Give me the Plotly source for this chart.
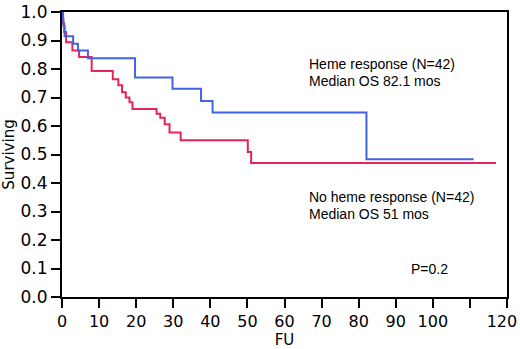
import plotly.graph_objects as go

# Heme response group (Kaplan-Meier steps)
heme_time = [0, 0.2, 0.4, 0.7, 3.0, 4.3, 7.0, 19.7, 29.8, 37.5, 40.6, 82.1, 111]
heme_surv = [1.0, 0.975, 0.95, 0.915, 0.889, 0.865, 0.838, 0.770, 0.731, 0.688, 0.647, 0.483, 0.483]

# No heme response group
noheme_time = [0, 0.3, 0.6, 1.1, 2.8, 4.6, 8.0, 13.7, 15.2, 16.2, 17.2, 18.2, 19.0,
               25.5, 26.5, 27.7, 29.0, 32.0, 50.1, 51.0, 117]
noheme_surv = [1.0, 0.96, 0.93, 0.894, 0.865, 0.842, 0.793, 0.764, 0.743, 0.718, 0.700, 0.683,
               0.660, 0.643, 0.629, 0.606, 0.577, 0.550, 0.509, 0.470, 0.470]

x_ticks = [0, 10, 20, 30, 40, 50, 60, 70, 80, 90, 100, 110, 120]
x_ticktext = ["0", "10", "20", "30", "40", "50", "60", "70", "80", "90", "100", "",
              "120\u00a0\u00a0"]
y_ticks = [0.0, 0.1, 0.2, 0.3, 0.4, 0.5, 0.6, 0.7, 0.8, 0.9, 1.0]

fig = go.Figure()
fig.add_trace(go.Scatter(x=noheme_time, y=noheme_surv, mode="lines", line_shape="hv",
                         line=dict(color="#E6245A", width=2), showlegend=False))
fig.add_trace(go.Scatter(x=heme_time, y=heme_surv, mode="lines", line_shape="hv",
                         line=dict(color="#4163E6", width=2), showlegend=False))

ann_font = dict(family="Liberation Sans, Arial, sans-serif", size=14, color="black")
labels = [
    ("Heme response (N=42)", 66.2, 0.816),
    ("Median OS 82.1 mos", 66.2, 0.758),
    ("No heme response (N=42)", 66.2, 0.350),
    ("Median OS 51 mos", 66.2, 0.291),
    ("P=0.2", 93.5, 0.098),
]
for txt, xx, yy in labels:
    fig.add_annotation(x=xx, y=yy, xref="x", yref="y", xanchor="left", yanchor="middle",
                       text=txt, showarrow=False, font=ann_font)

axis_font = dict(family="DejaVu Sans, sans-serif", size=16, color="black")
title_font = dict(family="DejaVu Sans, sans-serif", size=15, color="black")
fig.update_xaxes(range=[0, 120], tickvals=x_ticks, ticktext=x_ticktext, ticks="outside",
                 ticklen=9, tickwidth=2, tickcolor="black", showline=True, linecolor="black",
                 linewidth=2, mirror=True, showgrid=False, zeroline=False, tickfont=axis_font,
                 automargin=False, ticklabeloverflow="allow",
                 title=dict(text="FU", font=title_font, standoff=2))
fig.update_yaxes(range=[0, 1.0], tickvals=y_ticks, tickformat=".1f", ticks="outside",
                 ticklen=9, tickwidth=2, tickcolor="black", showline=True, linecolor="black",
                 linewidth=2, mirror=True, showgrid=False, zeroline=False,
                 tickfont=dict(family="DejaVu Sans, sans-serif", size=17, color="black"),
                 automargin=False, ticklabeloverflow="allow",
                 title=dict(text="Surviving", font=title_font, standoff=2))
fig.update_layout(width=520, height=349, margin=dict(l=62, r=13, t=12, b=52),
                  plot_bgcolor="white", paper_bgcolor="white")
fig.write_html("out.html", config={"displayModeBar": False},
               post_script="document.body.style.margin='0';document.body.style.padding='0';")
